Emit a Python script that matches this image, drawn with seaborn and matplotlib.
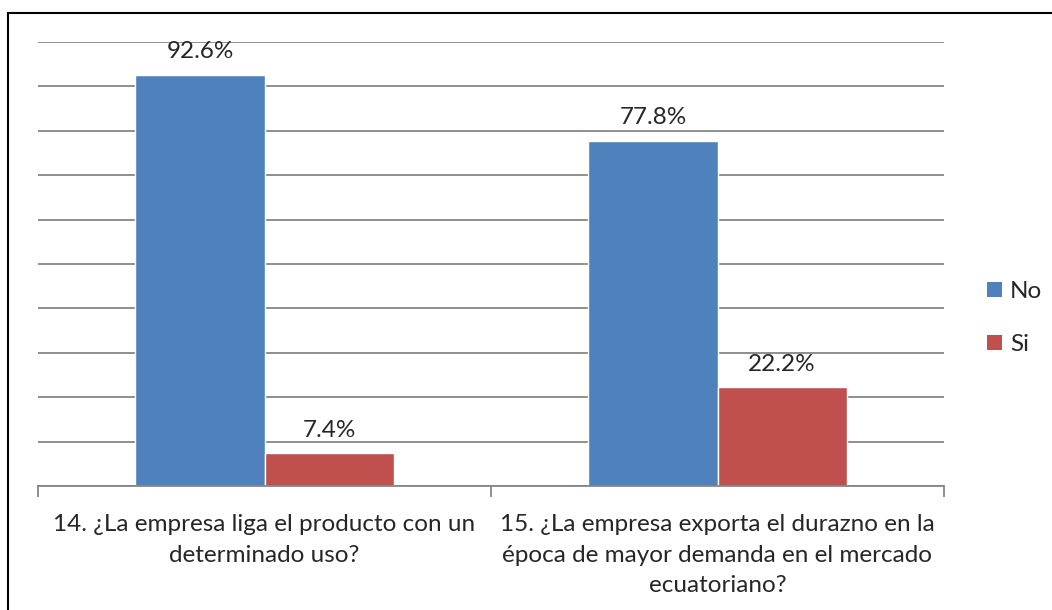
import matplotlib
matplotlib.use("Agg")
import matplotlib.pyplot as plt
from matplotlib.patches import Rectangle, Patch
import seaborn as sns
import pandas as pd
import numpy as np

# Survey results (percent of companies)
preguntas = [
    "14. ¿La empresa liga el producto con un\ndeterminado uso?",
    "15. ¿La empresa exporta el durazno en la\népoca de mayor demanda en el mercado\necuatoriano?",
]
respuestas = ["No", "Si"]
valores_no = [92.6, 77.8]
valores_si = [7.4, 22.2]
colores = ["#4F81BD", "#C0504D"]

df = pd.DataFrame({
    "pregunta": preguntas * 2,
    "respuesta": [respuestas[0]] * len(preguntas) + [respuestas[1]] * len(preguntas),
    "valor": valores_no + valores_si,
})

sns.set_style("white")
plt.rcParams["font.family"] = ["Lato", "DejaVu Sans"]
FS = 17.5

W, H = 1052, 610
fig = plt.figure(figsize=(W / 100, H / 100), dpi=100)
fig.patch.set_facecolor("white")

# outer chart frame
fig.patches.append(Rectangle((8 / W, 1 - 1000 / H), 1.2, (1000 - 13) / H,
                             transform=fig.transFigure, fill=False,
                             edgecolor="black", linewidth=1.5))

ax = fig.add_axes([38 / W, 1 - 486 / H, (944 - 38) / W, (486 - 42) / H])

sns.barplot(data=df, x="pregunta", y="valor", hue="respuesta",
            hue_order=respuestas, order=preguntas, palette=colores,
            saturation=1, width=0.57, ax=ax, legend=False)

ax.set_xlim(-0.5, 1.5)
ax.set_ylim(0, 100)
ax.set_yticks(np.arange(0, 101, 10))
ax.yaxis.grid(True, color="#868686", linewidth=1.3)
ax.set_axisbelow(True)
ax.tick_params(axis="y", length=0, labelleft=False)
ax.set_xlabel("")
ax.set_ylabel("")

for side in ["left", "right", "top"]:
    ax.spines[side].set_visible(False)
ax.spines["bottom"].set_color("#868686")
ax.spines["bottom"].set_linewidth(1.3)

# category boundary ticks, labels centred under each group
ax.set_xticks([0, 1])
ax.set_xticklabels(preguntas, fontsize=FS, linespacing=1.58)
ax.tick_params(axis="x", which="major", bottom=True, length=0, pad=20)
ax.set_xticks([-0.5, 0.5, 1.5], minor=True)
ax.tick_params(axis="x", which="minor", bottom=True, length=8, width=1.3,
               color="#868686")

# value labels above bars
for cont in ax.containers:
    ax.bar_label(cont, labels=[f"{v:.1f}%" for v in cont.datavalues],
                 padding=9, fontsize=FS)

handles = [Patch(facecolor=c, edgecolor="none", label=r) for r, c in zip(respuestas, colores)]
fig.legend(handles=handles, loc="center left", bbox_to_anchor=(987 / W, 1 - 318 / H),
           frameon=False, fontsize=FS, handlelength=0.6, handleheight=0.6,
           handletextpad=0.35, labelspacing=1.3, borderpad=0, borderaxespad=0)

fig.savefig("out.png", dpi=100)
